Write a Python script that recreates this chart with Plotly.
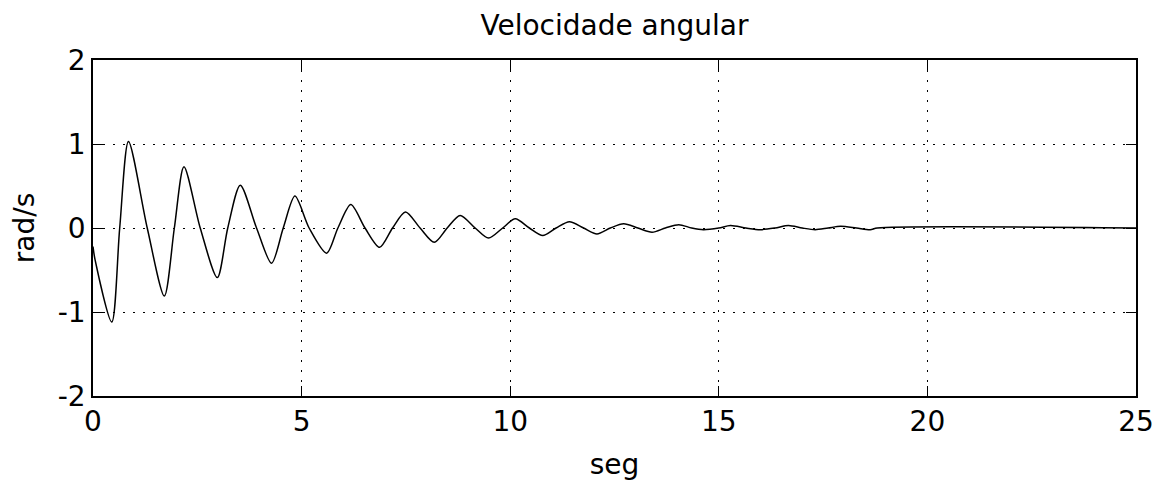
import plotly.graph_objects as go

# Data (time in s, angular velocity in rad/s)
t_seg = [0.0, 0.05, 0.45, 0.64, 0.85, 1.30, 1.71, 1.95, 2.18, 2.57, 2.98, 3.23,
         3.53, 3.92, 4.28, 4.56, 4.84, 5.18, 5.60, 5.87, 6.18, 6.52, 6.87, 7.18,
         7.49, 7.84, 8.18, 8.49, 8.80, 9.16, 9.48, 9.82, 10.12, 10.46, 10.78,
         11.10, 11.42, 11.76, 12.08, 12.40, 12.72, 13.06, 13.40, 13.72, 14.04,
         14.35, 14.63, 15.00, 15.28, 15.65, 15.99, 16.35, 16.67, 17.00, 17.31,
         17.62, 17.92, 18.30, 18.63, 18.80, 25.0]
vel_rad_s = [-0.22, -0.38, -1.12, 0.0, 1.03, 0.0, -0.81, 0.0, 0.73, 0.0, -0.59, 0.0,
             0.51, 0.0, -0.42, 0.0, 0.38, 0.0, -0.30, 0.0, 0.28, 0.0, -0.23, 0.0,
             0.19, 0.0, -0.17, 0.0, 0.15, 0.0, -0.12, 0.0, 0.11, 0.0, -0.09,
             0.0, 0.075, 0.0, -0.07, 0.0, 0.05, 0.0, -0.05, 0.0, 0.04,
             0.0, -0.02, 0.0, 0.03, 0.0, -0.02, 0.0, 0.03, 0.0, -0.02,
             0.0, 0.02, 0.0, -0.02, 0.0, 0.0]

x_ticks = [0, 5, 10, 15, 20, 25]
x_tick_labels = ["0", "5", "10", "15", "20", "25"]
y_ticks = [-2, -1, 0, 1, 2]
y_tick_labels = ["-2", "-1", "0", "1", "2"]

FONT = "DejaVu Sans"

fig = go.Figure()
fig.add_trace(go.Scatter(
    x=t_seg, y=vel_rad_s, mode="lines",
    line=dict(color="black", width=1.5, shape="spline", smoothing=0.8),
    showlegend=False, hoverinfo="skip",
))

axis_common = dict(
    showline=True, linecolor="black", linewidth=1.5, mirror="ticks",
    ticks="inside", ticklen=10, tickwidth=1.2, tickcolor="black",
    showgrid=True, gridcolor="black", gridwidth=1, griddash="1.5px,8.5px",
    zeroline=False, automargin=False,
    tickfont=dict(family=FONT, size=28, color="black"),
)

fig.update_xaxes(
    range=[0, 25], tickmode="array", tickvals=x_ticks, ticktext=x_tick_labels,
    title=dict(text="seg", font=dict(family=FONT, size=28, color="black"), standoff=17),
    **axis_common,
)
fig.update_yaxes(
    range=[-2, 2], tickmode="array", tickvals=y_ticks, ticktext=y_tick_labels,
    title=dict(text="rad/s", font=dict(family=FONT, size=28, color="black"), standoff=15),
    **axis_common,
)

fig.update_layout(
    width=1163, height=486,
    margin=dict(l=93, r=27, t=60, b=90),
    paper_bgcolor="white", plot_bgcolor="white",
    title=dict(text="Velocidade angular", x=0.5, xref="paper", xanchor="center",
               y=1 - 25 / 486, yref="container", yanchor="middle",
               font=dict(family=FONT, size=28, color="black")),
)

fig.write_html("out.html", config={"displayModeBar": False},
               post_script="document.body.style.margin='0';")
